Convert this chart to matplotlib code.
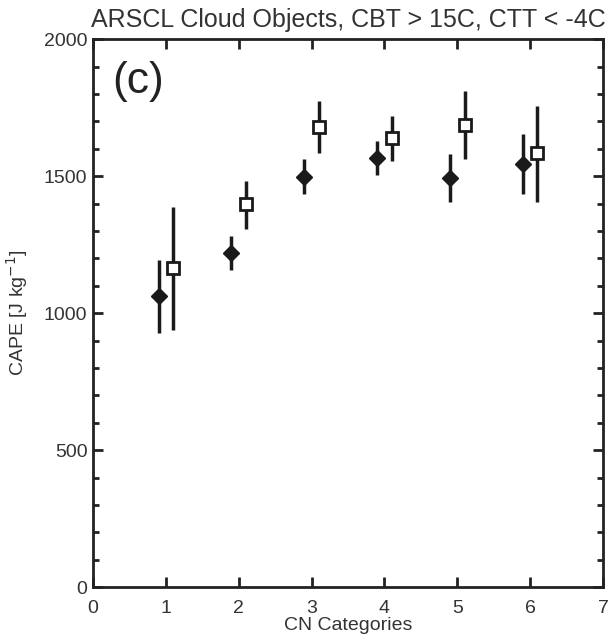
import matplotlib.pyplot as plt
import numpy as np

# Datos
cn_cat = np.array([1, 2, 3, 4, 5, 6])
diam_val = [1062, 1218, 1496, 1566, 1494, 1545]
diam_lo = [928, 1157, 1434, 1504, 1405, 1434]
diam_hi = [1193, 1281, 1562, 1628, 1580, 1653]
sq_val = [1163, 1397, 1679, 1638, 1686, 1583]
sq_lo = [937, 1307, 1584, 1555, 1562, 1405]
sq_hi = [1387, 1483, 1775, 1720, 1810, 1756]

txt = '#333333'
plt.rcParams['font.family'] = ['Liberation Sans', 'DejaVu Sans']

fig = plt.figure(figsize=(6.16, 6.41), dpi=100)
ax = fig.add_axes([0.151, 0.084, 0.828, 0.855])

d_err = [np.array(diam_val) - np.array(diam_lo), np.array(diam_hi) - np.array(diam_val)]
s_err = [np.array(sq_val) - np.array(sq_lo), np.array(sq_hi) - np.array(sq_val)]

ax.errorbar(cn_cat - 0.1, diam_val, yerr=d_err, fmt='D', color='#1a1a1a',
            markersize=8, elinewidth=2.5, capsize=0)
ax.errorbar(cn_cat + 0.1, sq_val, yerr=s_err, fmt='s', color='#1a1a1a',
            markerfacecolor='white', markeredgewidth=2, markersize=9,
            elinewidth=2.5, capsize=0)

ax.set_xlim(0, 7)
ax.set_ylim(0, 2000)
ax.set_xticks(range(0, 8))
ax.set_yticks(range(0, 2001, 500))
ax.set_yticks(range(0, 2001, 100), minor=True)
ax.tick_params(direction='in', top=True, right=True, which='both',
               labelsize=14, colors='#222222', labelcolor=txt, width=2, pad=4)
ax.tick_params(axis='x', pad=9)
ax.tick_params(which='major', length=7)
ax.tick_params(which='minor', length=4)
for s in ax.spines.values():
    s.set_linewidth(2)
    s.set_color('#222222')

ax.set_xlabel('CN Categories', fontsize=14, color=txt, labelpad=0)
ax.set_ylabel('CAPE [J kg$^{-1}$]', fontsize=14, color=txt, labelpad=10)
ax.set_title('ARSCL Cloud Objects, CBT > 15C, CTT < -4C', fontsize=18,
             color=txt, pad=9)
ax.text(0.26, 1845, '(c)', fontsize=32, color='#222222', va='center')

plt.savefig('out.png', dpi=100)
